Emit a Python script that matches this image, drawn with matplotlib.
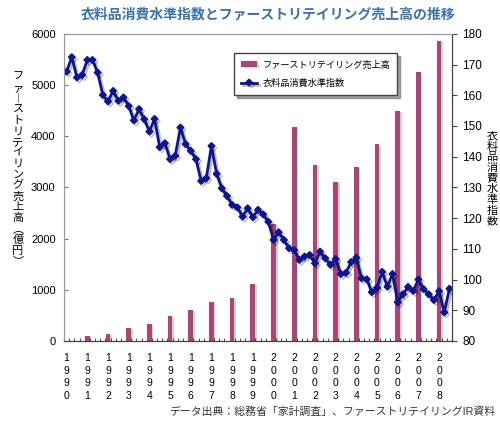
"""Clothing consumption index vs Fast Retailing sales, 1990-2008."""

import matplotlib

matplotlib.use("Agg")
import matplotlib.patheffects as pe
import matplotlib.pyplot as plt
import numpy as np

plt.rcParams["font.family"] = ["Liberation Sans", "Noto Sans CJK JP"]

# annual sales (億円), one bar per year; 1990 has no bar
years = list(range(1990, 2009))
sales = [np.nan, 100, 145, 260, 335, 490, 605, 755, 835, 1110,
         2290, 4186, 3442, 3098, 3400, 3839, 4488, 5252, 5865]

# quarterly clothing consumption index, 1990Q1 .. 2008Q3
index_q = [
    167.7, 172.4, 165.8, 166.6,
    171.5, 171.5, 167.4, 160.1,
    158.0, 161.4, 158.2, 159.3,
    156.5, 151.8, 155.5, 152.2,
    148.2, 152.3, 143.1, 144.4,
    139.2, 140.3, 149.5, 144.1,
    141.9, 139.2, 132.1, 133.0,
    143.5, 134.4, 129.7, 127.2,
    124.3, 123.5, 120.5, 123.2,
    120.3, 122.7, 121.2, 118.8,
    112.9, 115.4, 112.9, 110.2,
    109.6, 106.4, 107.5, 108.0,
    105.3, 109.1, 106.9, 104.8,
    106.7, 101.8, 102.2, 105.7,
    107.1, 100.4, 100.1, 95.9,
    97.3, 102.5, 97.7, 101.8,
    92.6, 95.2, 97.6, 96.3,
    100.0, 96.9, 95.2, 93.3,
    96.2, 89.3, 97.0,
]

bar_label = "ファーストリテイリング売上高"
line_label = "衣料品消費水準指数"
title = "衣料品消費水準指数とファーストリテイリング売上高の推移"
source = "データ出典：総務省「家計調査」、ファーストリテイリングIR資料"

bar_color = "#a94676"
line_color = "#0d168f"

fig = plt.figure(figsize=(5.0, 4.23), dpi=100)
ax = fig.add_axes([0.128, 0.194, 0.776, 0.726])
ax2 = ax.twinx()

# bars sit on the first quarter of each year
bar_x = np.arange(len(years)) * 4
bars = ax.bar(bar_x, sales, width=0.9, color=bar_color, label=bar_label, zorder=2)
for b in bars:
    b.set_path_effects([pe.SimplePatchShadow(offset=(1.2, -0.8), alpha=0.2), pe.Normal()])

qx = np.arange(len(index_q))
(line,) = ax2.plot(qx, index_q, color=line_color, lw=2, marker="D", ms=3.4,
                   label=line_label)
line.set_path_effects([pe.SimpleLineShadow(offset=(1.5, -1.5), alpha=0.25), pe.Normal()])

ax.set_xlim(-0.5, len(index_q) - 0.5)
ax.set_ylim(0, 6000)
ax.set_yticks(range(0, 6001, 1000))
ax2.set_ylim(80, 180)
ax2.set_yticks(range(80, 181, 10))

ax.set_xticks(bar_x)
ax.set_xticklabels(["\n".join(str(y)) for y in years], fontsize=7.5, linespacing=1.3)
ax.set_xticks(np.arange(-0.5, len(index_q), 1), minor=True)
ax.tick_params(axis="x", which="major", length=0, pad=9)
ax.tick_params(axis="x", which="minor", direction="in", length=2.5, width=0.8, color="#555")
ax.tick_params(axis="y", direction="in", length=3, labelsize=8, pad=6, color="#777")
ax2.tick_params(axis="y", direction="out", length=3.5, labelsize=8.5, pad=4, color="#444")

for s in ["top", "left"]:
    ax.spines[s].set_color("#999")
    ax2.spines[s].set_color("#999")
ax2.spines["right"].set_color("#444")
ax2.spines["bottom"].set_color("#444")

handles = [bars, line]
ax2.legend(handles, [bar_label, line_label], loc="upper left",
           bbox_to_anchor=(0.438, 0.938), borderaxespad=0, fontsize=6.6,
           fancybox=False, edgecolor="#444", shadow=True, borderpad=0.8,
           labelspacing=1.0, handlelength=1.7, handletextpad=0.6, framealpha=1)

fig.text(0.535, 0.965, title, ha="center", va="center", fontsize=10,
         fontweight="bold", color="#3b72ad")

# vertical (tategaki) axis titles, one character per line
left_title = "ファ︱ストリテイリング売上高︵億円︶"
fig.text(0.036, 0.6, "\n".join(left_title), ha="center", va="center",
         fontsize=8, linespacing=1.1)
fig.text(0.984, 0.577, "\n".join(line_label), ha="center", va="center",
         fontsize=8, linespacing=1.08)

fig.text(0.99, 0.026, source, ha="right", va="center", fontsize=7.8, color="#333")

fig.savefig("out.png", dpi=100)
